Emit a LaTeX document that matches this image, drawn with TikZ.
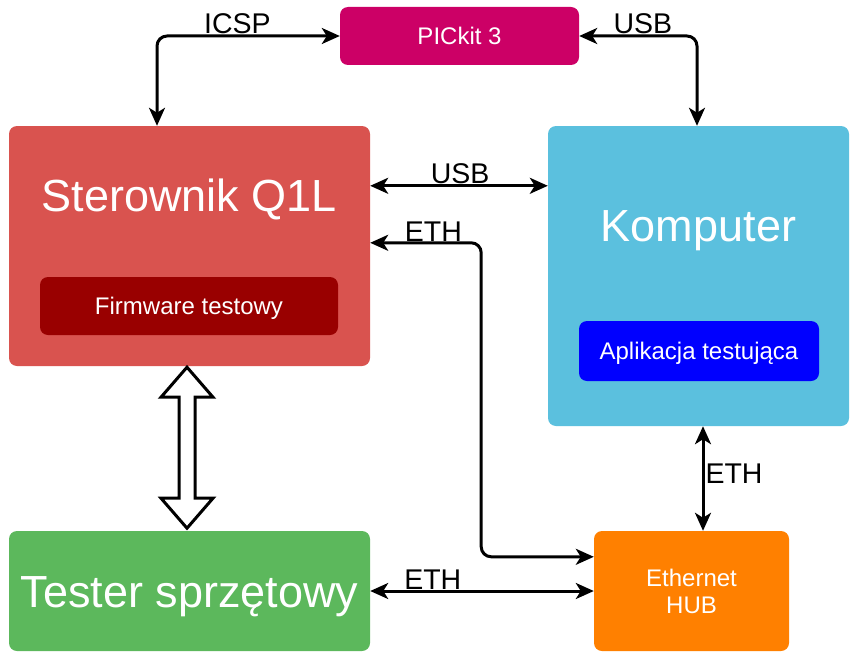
\documentclass[tikz,border=0pt]{standalone}
\usepackage{fontspec}
\setmainfont{Liberation Sans}
\usetikzlibrary{arrows.meta,calc}

\definecolor{pickit}{HTML}{CC0066}
\definecolor{sterred}{HTML}{D9534F}
\definecolor{firmred}{HTML}{990000}
\definecolor{kompblue}{HTML}{5BC0DE}
\definecolor{appblue}{HTML}{0000FF}
\definecolor{testgreen}{HTML}{5CB85C}
\definecolor{huborange}{HTML}{FF8000}

\tikzset{
  box/.style={rectangle, rounded corners=8pt, inner sep=0pt, text=white, align=center},
  bigtxt/.style={font=\fontsize{45}{54}\selectfont, text height=32pt, text depth=0pt},
  smalltxt/.style={font=\fontsize{24}{27}\selectfont, text height=17.2pt, text depth=0pt},
  conn/.style={line width=3pt, rounded corners=10pt,
    {Stealth[length=18pt,width=16pt,inset=5pt]}-{Stealth[length=18pt,width=16pt,inset=5pt]}},
  lbl/.style={font=\fontsize{28.5}{32}\selectfont, inner sep=1pt},
}

\begin{document}
\begin{tikzpicture}[x=1pt, y=-1pt]
  \useasboundingbox (0,0) rectangle (864,669);
  % blocks
  \node[box, fill=pickit, smalltxt, minimum width=239pt, minimum height=58pt] (pick) at (459.5,36) {PICkit 3};
  \node[box, fill=sterred, minimum width=361pt, minimum height=240pt] (ster) at (189.5,246) {};
  \node[bigtxt, text=white] (stertxt) at (189.5,195) {Sterownik Q1L};
  \node[box, fill=firmred, smalltxt, minimum width=298pt, minimum height=58pt] (firm) at (189,306) {Firmware testowy};
  \node[box, fill=kompblue, minimum width=301pt, minimum height=300pt] (komp) at (698.5,276) {};
  \node[bigtxt, text=white] (komptxt) at (698.5,225) {Komputer};
  \node[box, fill=appblue, smalltxt, minimum width=240pt, minimum height=60pt] (app) at (699,351) {Aplikacja testująca};
  \node[box, fill=testgreen, bigtxt, minimum width=361pt, minimum height=120pt] (tester) at (189.5,591) {Tester sprzętowy};
  \node[box, fill=huborange, font=\fontsize{24}{27}\selectfont, minimum width=195pt, minimum height=120pt] (hub) at (691.5,591) {Ethernet\\HUB};

  % links
  \draw[conn] (pick.west) -| node[lbl, pos=0.28, above] {ICSP} ($(ster.north)+(-32.5,0)$);
  \draw[conn] (pick.east) -| node[lbl, pos=0.27, above] {USB} ($(komp.north)+(-1.5,0)$);
  \coordinate (usbL) at ($(ster.north east)+(0,60)$);
  \draw[conn] (usbL) -- node[lbl, above, pos=0.506] {USB} (usbL -| komp.west);
  \coordinate (ethL) at ($(ster.north east)+(0,117)$);
  \draw[conn] (ethL) -- node[lbl, above, pos=0.57, inner sep=0pt] {ETH} ++(111,0) |- ($(hub.north west)+(0,26)$);
  \draw[conn] (tester.east) -- node[lbl, above, pos=0.28, inner sep=0pt] {ETH} (hub.west);
  \coordinate (ethT) at ($(komp.south)+(4.5,0)$);
  \draw[conn] (ethT) -- node[lbl, right, pos=0.45] {ETH} (ethT |- hub.north);

  % hollow double arrow
  \draw[line width=3pt, fill=white, line join=miter] ($(ster.south)+(-2.5,1)$) -- ++(-26,30) -- ++(18,0) -- ++(0,101)
    -- ++(-18,0) -- ++(26,30) -- ++(26,-30) -- ++(-18,0) -- ++(0,-101) -- ++(18,0) -- cycle;
\end{tikzpicture}
\end{document}
